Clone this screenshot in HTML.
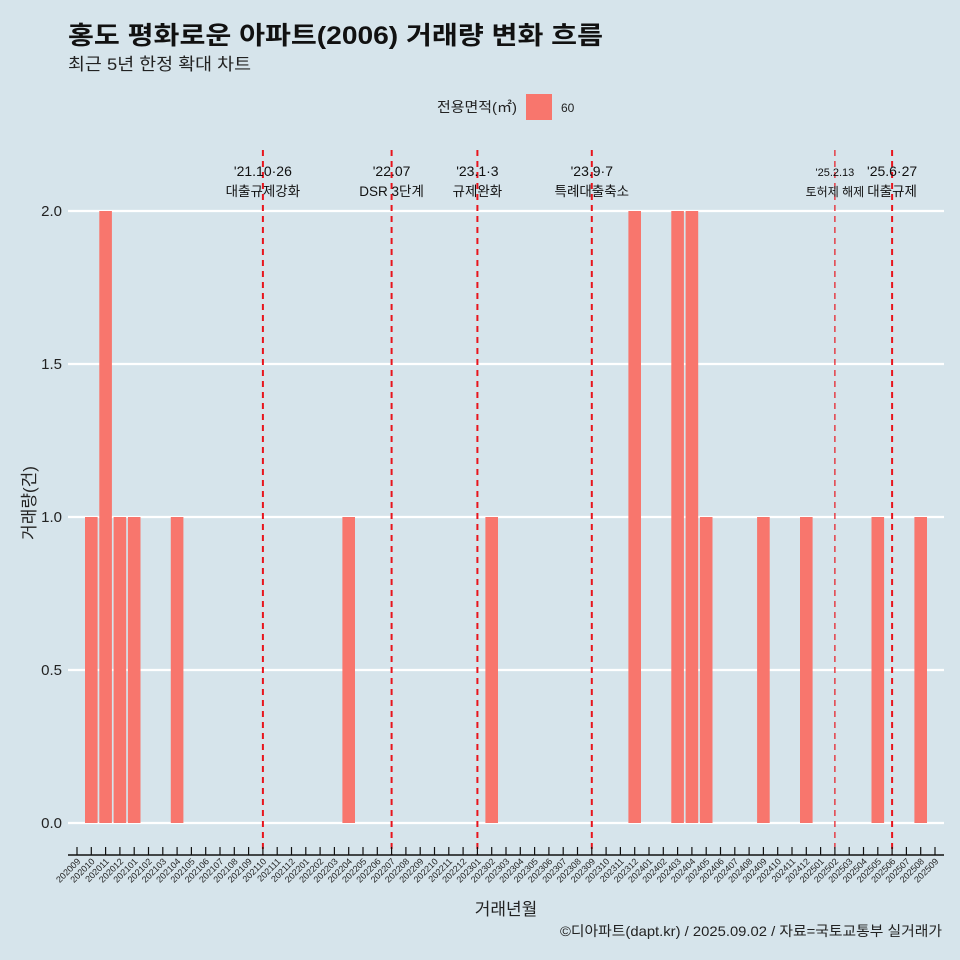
<!DOCTYPE html>
<html><head><meta charset="utf-8"><style>
body{margin:0;background:#d6e4eb;}
svg{display:block;font-family:"Liberation Sans","Noto Sans CJK KR",sans-serif;}
</style></head><body>
<svg id="c" width="960" height="960">
<rect width="960" height="960" fill="#d6e4eb"/>
<text x="68" y="44" font-size="25" font-weight="bold" fill="#111" textLength="535" lengthAdjust="spacingAndGlyphs">홍도 평화로운 아파트(2006) 거래량 변화 흐름</text>
<text x="68" y="70" font-size="17" fill="#222" textLength="183" lengthAdjust="spacingAndGlyphs">최근 5년 한정 확대 차트</text>
<g>
<text x="437" y="112" font-size="14" fill="#222" textLength="80" lengthAdjust="spacingAndGlyphs">전용면적(㎡)</text>
<rect x="526" y="94" width="26" height="26" fill="#f8766d"/>
<text x="561" y="112" font-size="12" fill="#222">60</text>
</g>
<g id="grid"></g><g id="bars"></g><g id="events"></g><g id="xaxis"></g><g id="yaxis"></g>
<text x="506" y="915" font-size="17" text-anchor="middle" fill="#222">거래년월</text>
<text transform="translate(35,503) rotate(-90)" font-size="17" text-anchor="middle" fill="#222">거래량(건)</text>
<text x="942" y="936" font-size="14" text-anchor="end" fill="#222" textLength="382" lengthAdjust="spacingAndGlyphs">©디아파트(dapt.kr) / 2025.09.02 / 자료=국토교통부 실거래가</text>
</svg>
<script>
const months=[];for(let y=2020,m=9;y*100+m<=202509;){months.push(String(y*100+m));m++;if(m>12){m=1;y++;}}
const barMonths=["202010","202011","202012","202101","202104","202204","202302","202312","202403","202404","202405","202409","202412","202505","202508"];
const barValues=[1,2,1,1,1,1,1,2,2,2,1,1,1,1,1];
const yTicks=[0,0.5,1,1.5,2];
const yTickLabels=["0.0","0.5","1.0","1.5","2.0"];
const eventMonths=["202110","202207","202301","202309","202502","202506"];
const eventLine1=["'21.10·26","'22.07","'23.1·3","'23.9·7","'25.2.13","'25.6·27"];
const eventLine2=["대출규제강화","DSR 3단계","규제완화","특례대출축소","토허제 해제","대출규제"];
const NS="http://www.w3.org/2000/svg";
const x0=77,step=(935-77)/60;
const X=m=>x0+months.indexOf(m)*step;
const Y=v=>823-v*306;
function mk(t,a,p){const e=document.createElementNS(NS,t);for(const k in a)e.setAttribute(k,a[k]);p.appendChild(e);return e;}
const grid=document.getElementById('grid');
yTicks.forEach((v,i)=>{
 const l=mk('line',{x1:68,x2:944,y1:Y(v),y2:Y(v),stroke:'#fff','stroke-width':2.2},grid);
 
 
 const t=mk('text',{x:62,y:Y(v)+5,'font-size':15,'text-anchor':'end',fill:'#222'},document.getElementById('yaxis'));
 t.textContent=yTickLabels[i];
 
 
});
const bars=document.getElementById('bars');
barMonths.forEach((m,i)=>{
 const r=mk('rect',{x:X(m)-6.3,y:Y(barValues[i]),width:12.6,height:Y(0)-Y(barValues[i]),fill:'#f8766d'},bars);
 
 
});
const ev=document.getElementById('events');
eventMonths.forEach((m,i)=>{
 const thin=m==="202502";
 const l=mk('line',{x1:X(m),x2:X(m),y1:150,y2:855,stroke:'#e8141c','stroke-width':thin?1.2:2,'stroke-dasharray':'6,5'},ev);
 
 
 const fs=thin?11:14;
 const t1=mk('text',{x:X(m),y:176,'font-size':fs,'text-anchor':'middle',fill:'#111'},ev);t1.textContent=eventLine1[i];
 
 
 const t2=mk('text',{x:X(m),y:196,'font-size':thin?12:13.5,'text-anchor':'middle',fill:'#111'},ev);t2.textContent=eventLine2[i];
 
 
});
const xa=document.getElementById('xaxis');
const al=mk('line',{x1:68,x2:944,y1:855,y2:855,stroke:'#111','stroke-width':1.5},xa);


months.forEach(m=>{
 const tk=mk('line',{x1:X(m),x2:X(m),y1:847,y2:855,stroke:'#111','stroke-width':1.2},xa);
 
 
 const t=mk('text',{transform:`translate(${X(m)+4},862) rotate(-45)`,'font-size':9,'text-anchor':'end',fill:'#222'},xa);
 t.textContent=m;
 
 
});
</script>
</body></html>
